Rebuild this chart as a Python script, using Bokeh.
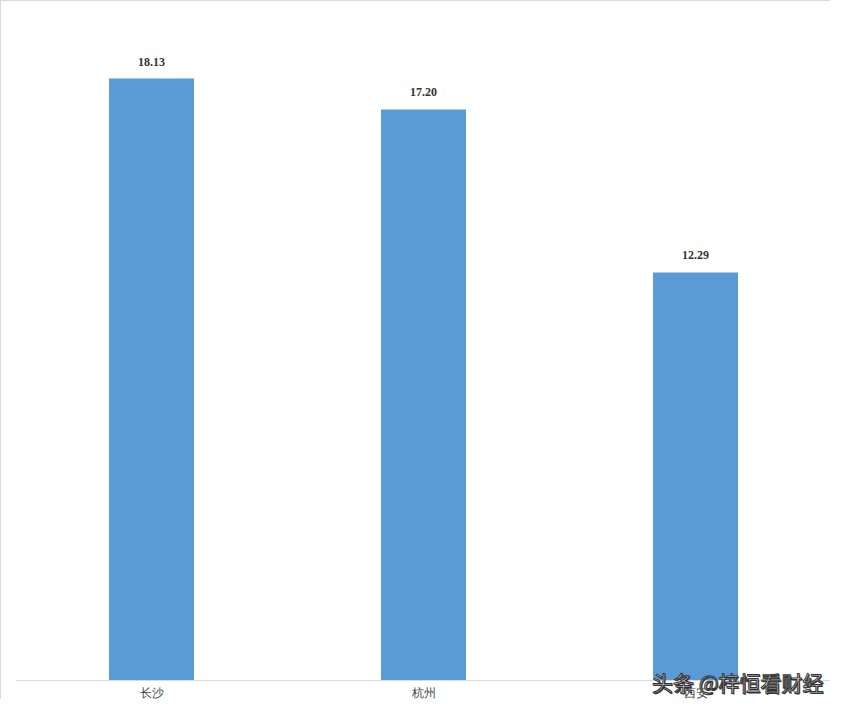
from bokeh.plotting import figure
from bokeh.models import ColumnDataSource, LabelSet, Label, Range1d, FactorRange, Span
from bokeh.embed import file_html
from bokeh.resources import INLINE

cities = ["长沙", "杭州", "西安"]
values = [18.13, 17.20, 12.29]
labels = ["%.2f" % v for v in values]
watermark = "头条 @梓恒看财经"

src = ColumnDataSource(dict(x=cities, top=values, label=labels, base=[0] * len(cities)))

p = figure(x_range=FactorRange(*cities, range_padding=0), y_range=Range1d(-0.603, 20.18),
           width=830, height=699, output_backend="svg", toolbar_location=None,
           min_border_left=14, min_border_right=0, min_border_top=9, min_border_bottom=0)
p.styles = {"border-left": "1px solid #d9d9d9", "border-top": "1px solid #d9d9d9"}
p.outline_line_color = None
p.background_fill_color = "white"
p.border_fill_color = "white"
p.xaxis.visible = False
p.yaxis.visible = False
p.xgrid.visible = False
p.ygrid.visible = False

p.vbar(x="x", top="top", width=0.3125, source=src, color="#5b9bd5", line_color=None)
p.add_layout(Span(location=0, dimension="width", line_color="#d9d9d9", line_width=1))

p.add_layout(LabelSet(x="x", y="top", text="label", source=src, y_offset=17,
                      text_align="center", text_baseline="middle",
                      text_font="Liberation Serif", text_font_style="bold",
                      text_font_size="12px", text_color="#333333"))

p.add_layout(LabelSet(x="x", y="base", text="x", source=src, y_offset=-13,
                      text_align="center", text_baseline="middle",
                      text_font="Noto Sans CJK SC",
                      text_font_size="12px", text_color="#404040"))

p.add_layout(Label(x=2.34, y=-0.50, text=watermark, text_font="Noto Sans CJK SC",
                   text_font_size="21px", text_color="#333333", x_offset=1, y_offset=-1,
                   text_baseline="bottom"))
p.add_layout(Label(x=2.34, y=-0.50, text=watermark, text_font="Noto Sans CJK SC",
                   text_font_size="21px", text_color="white", text_outline_color="#333333",
                   text_baseline="bottom"))

open("out.html", "w").write(file_html(p, INLINE))
